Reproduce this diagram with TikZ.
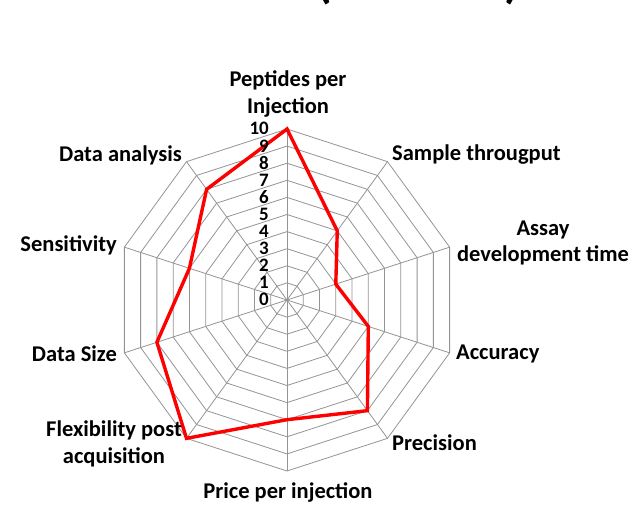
\documentclass[tikz,border=0pt]{standalone}
\usepackage{fontspec}
\setmainfont{Carlito}
\usetikzlibrary{calc}
\begin{document}
\begin{tikzpicture}[x=1pt,y=1pt,
  gridline/.style={draw=black!42,line width=0.8pt},
  serie/.style={draw=red,line width=3.4pt,line join=miter},
  axlabel/.style={font=\fontsize{22.5}{26.5}\selectfont\bfseries,align=center,inner sep=0pt},
  numlabel/.style={font=\fontsize{19}{19}\selectfont\bfseries,inner sep=0pt,text height=12pt,text depth=0pt,anchor=east},
  paren/.style={font=\fontsize{50}{50}\selectfont\bfseries,inner sep=0pt}]
\useasboundingbox (0,0) rectangle (630,507);
\clip (0,0) rectangle (630,507);
\coordinate (C) at (287,207);
% rings
\foreach \k in {1,...,10}{
  \draw[gridline] ($(C)+(90:\k*17.1)$) \foreach \a in {54,18,-18,-54,-90,-126,-162,162,126}{ -- ($(C)+(\a:\k*17.1)$)} -- cycle;
}
% spokes
\foreach \a [count=\i] in {90,54,18,-18,-54,-90,-126,-162,162,126}{
  \coordinate (o\i) at ($(C)+(\a:171)$);
  \draw[gridline] (C) -- (o\i);
}
% data
\foreach \a/\v [count=\i] in {90/10,54/5,18/3,-18/5,-54/8,-90/7,-126/10,-162/8,162/6,126/8}{
  \coordinate (p\i) at ($(C)+(\a:\v*17.1)$);
}
\draw[serie] (p1) -- (p2) -- (p3) -- (p4) -- (p5) -- (p6) -- (p7) -- (p8) -- (p9) -- (p10) -- cycle;
% numbers
\foreach \k in {0,...,10}{
  \node[numlabel] (n\k) at ($(C)+(-18,\k*17.1)$) {\k};
}
% axis labels
\node[axlabel] (l1) at (288,413) {Peptides per\\Injection};
\node[axlabel,anchor=west] (l2) at (392,352) {Sample througput};
\node[axlabel] (l3) at (543,264) {Assay\\development time};
\node[axlabel,anchor=west] (l4) at (456,153) {Accuracy};
\node[axlabel,anchor=west] (l5) at (392,64) {Precision};
\node[axlabel] (l6) at (288,15) {Price per injection};
\node[axlabel] (l7) at (114,63) {Flexibility post\\acquisition};
\node[axlabel,anchor=east] (l8) at (117,153) {Data Size};
\node[axlabel,anchor=east] (l9) at (117,262) {Sensitivity};
\node[axlabel,anchor=east] (l10) at (182,352) {Data analysis};
% cut-off title parentheses
\node[paren,anchor=base west] (pl) at (316,509) {(};
\node[paren,anchor=base east] (pr) at (520,509) {)};
\end{tikzpicture}
\end{document}
